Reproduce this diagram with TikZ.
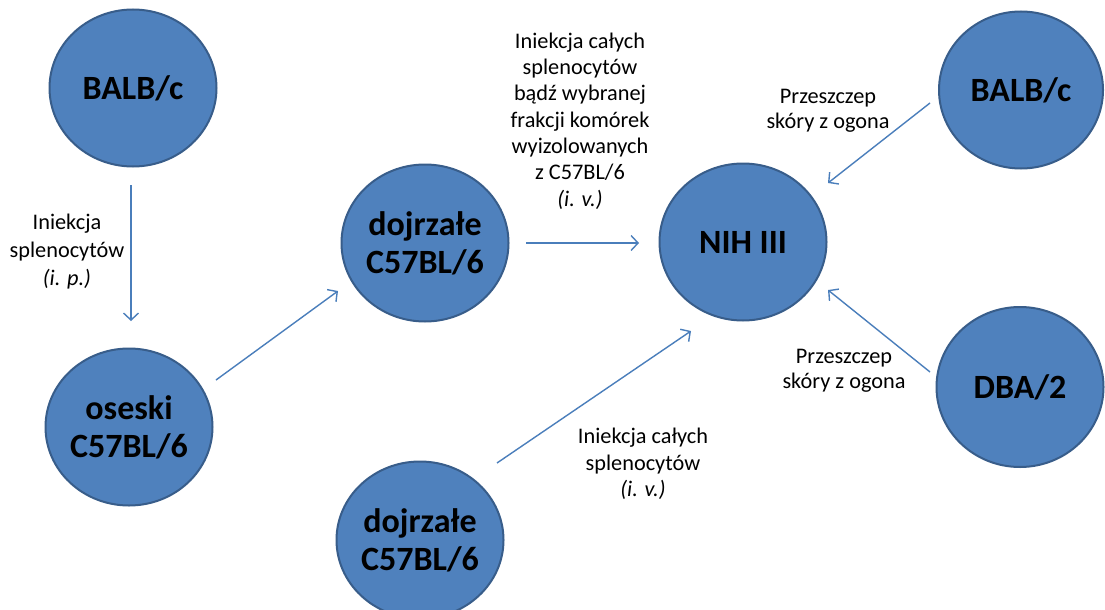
\documentclass[tikz,border=0pt]{standalone}
\usepackage{fontspec}
\setmainfont{Carlito}
\usetikzlibrary{arrows.meta,shapes.geometric}
\definecolor{blobfill}{HTML}{4F81BD}
\definecolor{blobline}{HTML}{385D8A}
\definecolor{arrowc}{HTML}{4A7EBB}
\begin{document}
\begin{tikzpicture}[x=1pt,y=-1pt,
  blob/.style={ellipse, fill=blobfill, draw=blobline, line width=2pt, inner sep=0pt,
    minimum width=167pt, minimum height=157pt,
    font=\fontsize{34}{38}\selectfont\bfseries, align=center, text=black},
  lbl/.style={align=center, inner sep=0pt, text=black, font=\fontsize{22.3}{26.3}\selectfont},
  conn/.style={draw=arrowc, line width=1.4pt, -{Straight Barb[length=7pt,width=15pt,line width=1.4pt]}}]
\useasboundingbox (0,0) rectangle (1105,610);
\fill[white] (0,0) rectangle (1105,610);

% strains
\node[blob] (balbL) at (133,88) {BALB/c};
\node[blob] (oseski) at (129,427) {oseski\\C57BL/6};
\node[blob] (dojT) at (425,243) {dojrzałe\\C57BL/6};
\node[blob] (dojB) at (420,540) {dojrzałe\\C57BL/6};
\node[blob] (nih) at (743,242) {NIH III};
\node[blob, minimum width=164pt] (balbR) at (1021,90) {BALB/c};
\node[blob, minimum height=160pt] (dba) at (1020,387) {DBA/2};

% arrow end points
\coordinate (a1s) at (131,185);  \coordinate (a1e) at (131,321);
\coordinate (a2s) at (216,380);  \coordinate (a2e) at (338,291);
\coordinate (a3s) at (526,243);  \coordinate (a3e) at (639,243);
\coordinate (a4s) at (497,463);  \coordinate (a4e) at (691,331);
\coordinate (a5s) at (930,103);  \coordinate (a5e) at (828,183);
\coordinate (a6s) at (930,372);  \coordinate (a6e) at (828,290);

\draw[conn] (a1s) -- (a1e);
\draw[conn] (a2s) -- (a2e);
\draw[conn] (a3s) -- (a3e);
\draw[conn] (a4s) -- (a4e);
\draw[conn] (a5s) -- (a5e);
\draw[conn] (a6s) -- (a6e);

% labels
\node[lbl, font=\fontsize{22.3}{28}\selectfont] (l1) at (67,252) {Iniekcja\\splenocytów\\\textit{(i. p.)}};
\node[lbl] (l2) at (580,121) {Iniekcja całych\\splenocytów\\bądź wybranej\\frakcji komórek\\wyizolowanych\\z C57BL/6\\\textit{(i. v.)}};
\node[lbl, font=\fontsize{22.3}{25}\selectfont] (l3) at (828,111) {Przeszczep\\skóry z ogona};
\node[lbl, font=\fontsize{22.3}{25}\selectfont] (l4) at (844,371) {Przeszczep\\skóry z ogona};
\node[lbl] (l5) at (643,464) {Iniekcja całych\\splenocytów\\\textit{(i. v.)}};
\end{tikzpicture}
\end{document}
